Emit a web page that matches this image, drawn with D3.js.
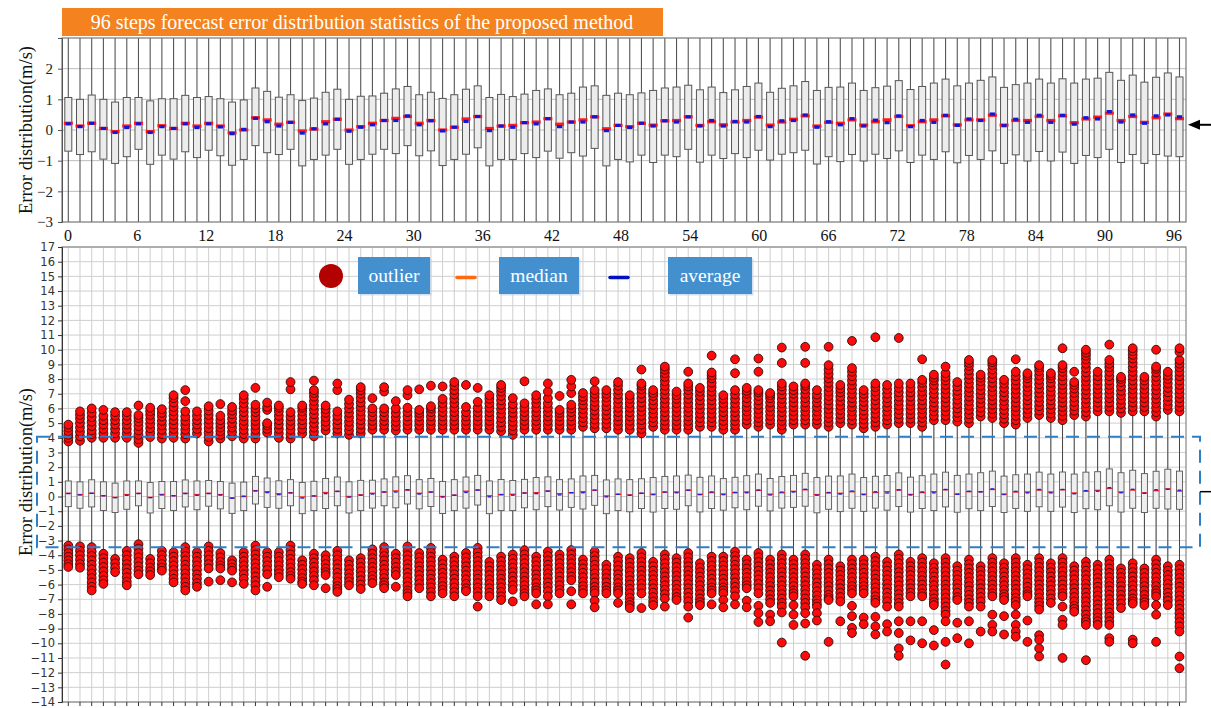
<!DOCTYPE html>
<html><head><meta charset="utf-8">
<script src="https://cdn.jsdelivr.net/npm/d3@7"></script>
<style>body{margin:0;background:#fff}svg{display:block}</style>
</head><body>
<svg id="c" width="1211" height="708"></svg>
<script>
// ---------------- DATA ----------------
const steps = d3.range(96);                 // box index 0..95
const xTickLabels = [0,6,12,18,24,30,36,42,48,54,60,66,72,78,84,90,96];
const topYTicks = [-3,-2,-1,0,1,2];
const bottomYTicks = d3.range(-14,18);
const zoomBand = [-3.45, 4.08];
const titleText = "96 steps forecast error distribution statistics of the proposed method";
const yTitle = "Error distribution(m/s)";
const legendItems = ["outlier","median","average"];

const q3 = [1.06,1.00,1.14,1.00,0.91,1.06,1.06,0.95,1.02,1.02,1.13,1.06,
 1.09,1.02,0.91,0.98,1.37,1.26,1.07,1.15,0.96,1.04,1.23,1.33,
 1.00,1.10,1.11,1.20,1.34,1.42,1.15,1.23,1.03,1.15,1.33,1.44,
 1.06,1.16,1.09,1.17,1.29,1.34,1.15,1.20,1.40,1.44,1.13,1.20,
 1.15,1.21,1.29,1.37,1.40,1.46,1.31,1.40,1.22,1.31,1.42,1.53,
 1.23,1.36,1.44,1.58,1.29,1.39,1.40,1.53,1.29,1.38,1.43,1.61,
 1.32,1.42,1.53,1.66,1.44,1.53,1.62,1.73,1.39,1.48,1.53,1.66,
 1.53,1.67,1.53,1.66,1.69,1.88,1.62,1.79,1.56,1.72,1.86,1.73];
const q1 = [-0.69,-0.80,-0.71,-0.95,-1.09,-0.87,-0.63,-1.12,-0.82,-0.95,-0.71,-0.90,
 -0.66,-0.84,-1.15,-0.96,-0.51,-0.74,-0.80,-0.63,-1.17,-0.96,-0.82,-0.63,
 -1.12,-0.96,-0.79,-0.63,-0.77,-0.51,-0.84,-0.68,-1.16,-0.96,-0.79,-0.58,
 -1.17,-0.96,-0.96,-0.77,-0.90,-0.69,-0.92,-0.74,-0.85,-0.60,-1.17,-0.96,
 -1.04,-0.82,-1.06,-0.82,-0.87,-0.63,-1.05,-0.82,-0.93,-0.77,-0.90,-0.66,
 -0.98,-0.79,-0.74,-0.66,-1.11,-0.87,-1.03,-0.80,-1.01,-0.79,-0.93,-0.68,
 -1.06,-0.82,-0.96,-0.71,-1.07,-0.83,-0.96,-0.68,-1.09,-0.81,-1.01,-0.70,
 -1.01,-0.72,-1.09,-0.83,-0.90,-0.63,-1.06,-0.80,-1.09,-0.80,-0.85,-0.87];
const median = [0.22,0.13,0.22,0.05,-0.05,0.13,0.22,-0.05,0.14,0.05,0.22,0.13,
 0.22,0.13,-0.09,0.00,0.40,0.33,0.19,0.25,-0.03,0.03,0.27,0.35,
 0.00,0.11,0.22,0.31,0.38,0.44,0.22,0.31,0.00,0.09,0.36,0.44,
 0.05,0.13,0.15,0.24,0.26,0.37,0.19,0.26,0.33,0.43,0.04,0.15,
 0.11,0.22,0.16,0.30,0.31,0.43,0.15,0.27,0.17,0.26,0.31,0.42,
 0.16,0.26,0.35,0.46,0.13,0.25,0.22,0.33,0.16,0.27,0.33,0.44,
 0.14,0.27,0.33,0.46,0.17,0.33,0.33,0.48,0.16,0.31,0.31,0.44,
 0.31,0.46,0.24,0.36,0.42,0.55,0.31,0.44,0.25,0.40,0.52,0.37];
const average = [0.20,0.11,0.22,0.05,-0.08,0.08,0.20,-0.08,0.11,0.05,0.20,0.08,
 0.20,0.10,-0.12,0.02,0.38,0.27,0.13,0.25,-0.10,0.04,0.20,0.35,
 -0.04,0.09,0.17,0.31,0.31,0.46,0.17,0.30,-0.03,0.09,0.28,0.44,
 -0.02,0.13,0.09,0.24,0.20,0.37,0.11,0.26,0.26,0.43,-0.02,0.15,
 0.08,0.22,0.13,0.30,0.26,0.43,0.13,0.31,0.13,0.28,0.26,0.44,
 0.11,0.30,0.31,0.49,0.09,0.27,0.17,0.37,0.13,0.32,0.24,0.46,
 0.11,0.31,0.25,0.48,0.15,0.36,0.31,0.52,0.14,0.35,0.25,0.48,
 0.25,0.48,0.19,0.40,0.36,0.60,0.26,0.49,0.22,0.46,0.49,0.43];
const whiskerHi = [3.6,3.65,3.85,3.85,3.85,3.85,3.5,3.9,3.8,3.85,3.8,4.15,
 3.6,3.8,3.95,3.8,3.8,4.2,3.85,3.8,4.15,3.95,4.35,4.15,
 4.05,4.15,4.4,4.4,4.35,4.4,4.4,4.4,4.4,4.4,4.4,4.4,
 4.4,4.3,4.05,4.4,4.4,4.4,4.4,4.4,4.6,4.5,4.5,4.4,
 4.4,4.15,4.6,4.4,4.4,4.4,4.6,4.6,4.4,4.4,4.75,4.6,
 4.75,4.4,4.75,4.75,4.75,4.6,4.85,4.75,4.5,4.6,4.75,4.85,
 4.85,4.6,5.05,5.05,4.95,4.85,5.3,5.2,4.85,4.75,5.2,5.4,
 5.2,5.05,5.4,5.3,5.65,5.65,5.55,5.65,5.65,5.3,5.75,5.65];
const whiskerLo = [-3.2,-3.25,-3.3,-3.75,-4.1,-3.55,-3.1,-4.1,-3.55,-3.65,-3.3,-3.65,
 -3.25,-3.7,-4.2,-3.65,-3.2,-3.65,-3.65,-3.2,-4.2,-3.75,-3.85,-3.55,
 -4.2,-4.05,-3.45,-3.3,-3.75,-3.25,-3.7,-3.35,-4.15,-3.95,-3.7,-3.35,
 -4.3,-3.95,-3.8,-3.5,-3.95,-3.6,-3.8,-3.5,-4.15,-3.6,-4.5,-3.95,
 -4.05,-3.7,-4.3,-3.8,-4.05,-3.7,-4.4,-3.95,-3.95,-3.6,-4.15,-3.7,
 -4.15,-3.8,-4.15,-3.8,-4.5,-4.15,-4.6,-4.15,-4.15,-3.95,-4.3,-3.8,
 -4.3,-4.05,-4.4,-4.05,-4.6,-4.15,-4.6,-4.05,-4.4,-4.05,-4.5,-4.05,
 -4.4,-4.05,-4.6,-4.3,-4.5,-4.15,-4.75,-4.4,-4.75,-4.15,-4.6,-4.5];

const upperOutliers = [
 [3.75,4.0,4.2,4.45,4.7,4.9],
 [3.8,4.1,4.4,4.7,5.0,5.3,5.55,5.8],
 [4.0,4.25,4.5,4.8,5.1,5.4,5.7,6.0],
 [4.0,4.3,4.6,4.9,5.2,5.5,5.9],
 [4.0,4.3,4.6,4.9,5.2,5.5,5.75],
 [4.0,4.3,4.6,4.9,5.2,5.5,5.75],
 [3.65,3.9,4.2,4.5,4.8,5.1,5.35,5.55,6.2],
 [4.05,4.35,4.65,4.95,5.25,5.55,5.8,6.05],
 [3.95,4.25,4.55,4.85,5.15,5.45,5.7,5.95],
 [4.0,4.3,4.6,4.9,5.2,5.5,5.8,6.1,6.4,6.7,6.9],
 [3.95,4.25,4.55,4.85,5.15,5.45,5.8,6.5,7.25],
 [4.3,4.6,4.9,5.2,5.5,5.8],
 [3.75,4.05,4.35,4.65,4.95,5.25,5.55,5.85,6.15],
 [3.95,4.2,4.45,4.7,4.95,5.2,5.5,6.3],
 [4.1,4.4,4.7,5.0,5.3,5.6,5.85,6.1],
 [3.95,4.25,4.55,4.85,5.15,5.45,5.75,6.05,6.35,6.65,6.9],
 [3.95,4.25,4.55,4.85,5.15,5.45,5.75,6.0,6.25,7.4],
 [4.35,4.6,4.85,5.0,5.9,6.1,6.4],
 [4.0,4.3,4.6,4.9,5.2,5.5,5.8,6.05,6.2],
 [3.95,4.25,4.55,4.85,5.15,5.45,5.75,7.3,7.8],
 [4.3,4.6,4.9,5.2,5.5,5.8,6.05,6.2],
 [4.1,4.4,4.7,5.0,5.3,5.6,5.9,6.2,6.5,6.8,7.05,7.25,7.9],
 [4.5,4.8,5.1,5.4,5.7,5.95,6.2],
 [4.3,4.6,4.9,5.2,5.5,5.8,7.25,7.7],
 [4.2,4.5,4.8,5.1,5.4,5.7,6.0,6.3,6.6],
 [4.3,4.6,4.9,5.2,5.5,5.8,6.1,6.4,6.7,7.0,7.25,7.45],
 [4.55,4.85,5.15,5.45,5.75,6.0,6.7],
 [4.55,4.85,5.15,5.45,5.75,6.0,7.15,7.45],
 [4.5,4.8,5.1,5.4,5.7,6.0,6.5],
 [4.55,4.85,5.15,5.45,5.75,6.05,6.9,7.25],
 [4.55,4.85,5.15,5.45,5.7,5.9,7.3],
 [4.55,4.85,5.15,5.45,5.75,6.0,6.15,7.55],
 [4.55,4.85,5.15,5.45,5.75,6.05,6.35,6.65,7.5],
 [4.55,4.85,5.15,5.45,5.75,6.05,6.35,6.65,6.95,7.25,7.55,7.8],
 [4.55,4.85,5.15,5.45,5.75,6.1,7.6],
 [4.55,4.85,5.15,5.45,5.75,6.05,6.45,7.4],
 [4.55,4.85,5.15,5.45,5.75,6.05,6.35,6.65,6.9],
 [4.45,4.75,5.05,5.35,5.65,5.95,6.25,6.55,6.85,7.15,7.4,7.6],
 [4.2,4.5,4.8,5.1,5.4,5.7,6.0,6.3,6.7],
 [4.55,4.85,5.15,5.45,5.75,6.05,6.35,7.85],
 [4.55,4.85,5.15,5.45,5.75,6.05,6.35,6.65,6.9],
 [4.55,4.85,5.15,5.45,5.75,6.05,6.35,6.7,7.15,7.7],
 [4.55,4.85,5.15,5.45,5.7,5.9,6.85],
 [4.55,4.85,5.15,5.45,5.75,6.0,6.25,7.05,7.5,7.95],
 [4.75,5.05,5.35,5.65,5.95,6.25,6.55,6.8,7.05],
 [4.65,4.95,5.25,5.55,5.85,6.15,6.45,6.75,7.0,7.25,7.85],
 [4.65,4.95,5.25,5.55,5.85,6.15,6.45,6.75,7.0,7.25],
 [4.55,4.85,5.15,5.45,5.75,6.05,6.35,6.65,6.95,7.25,7.55,7.8],
 [4.55,4.85,5.15,5.45,5.75,6.05,6.35,6.65,6.9],
 [4.3,4.6,4.9,5.2,5.5,5.8,6.1,6.4,6.7,7.0,7.3,7.55,7.7,8.65],
 [4.75,5.05,5.35,5.65,5.95,6.25,6.55,6.85,7.05,7.25],
 [4.55,4.85,5.15,5.45,5.75,6.05,6.35,6.65,6.95,7.25,7.55,7.85,8.15,8.4,8.65,8.85],
 [4.55,4.85,5.15,5.45,5.75,6.05,6.35,6.65,6.9,7.15],
 [4.55,4.85,5.15,5.45,5.75,6.05,6.35,6.65,6.95,7.25,7.5,7.7,8.5],
 [4.75,5.05,5.35,5.65,5.95,6.25,6.55,6.85,7.15,7.4],
 [4.75,5.05,5.35,5.65,5.95,6.25,6.55,6.85,7.15,7.45,7.75,8.05,8.25,8.45,9.6],
 [4.55,4.85,5.15,5.45,5.75,6.05,6.35,6.65,6.9],
 [4.55,4.85,5.15,5.45,5.75,6.05,6.35,6.65,6.95,7.25,8.4,9.35],
 [4.9,5.2,5.5,5.8,6.1,6.4,6.7,7.0,7.2,7.4],
 [4.75,5.05,5.35,5.65,5.95,6.25,6.55,6.85,7.1,7.25,8.5,9.4],
 [4.9,5.2,5.5,5.8,6.1,6.4,6.7,6.9,7.05],
 [4.55,4.85,5.15,5.45,5.75,6.05,6.35,6.65,6.95,7.25,7.5,7.7,9.1,10.15],
 [4.9,5.2,5.5,5.8,6.1,6.4,6.7,7.0,7.25,7.5],
 [4.9,5.2,5.5,5.8,6.1,6.4,6.7,7.0,7.3,7.55,7.7,9.1,10.2],
 [4.9,5.2,5.5,5.8,6.1,6.4,6.7,6.95,7.25],
 [4.75,5.05,5.35,5.65,5.95,6.25,6.55,6.85,7.15,7.45,7.75,8.05,8.35,8.65,8.95,10.2],
 [5.0,5.3,5.6,5.9,6.2,6.5,6.8,7.1,7.35,7.6],
 [4.9,5.2,5.5,5.8,6.1,6.4,6.7,7.0,7.3,7.6,7.9,8.2,8.5,8.75,10.6],
 [4.65,4.95,5.25,5.55,5.85,6.15,6.45,6.75,7.0,7.25],
 [4.75,5.05,5.35,5.65,5.95,6.25,6.55,6.85,7.15,7.45,7.7,10.85],
 [4.9,5.2,5.5,5.8,6.1,6.4,6.7,7.0,7.3,7.6],
 [5.0,5.3,5.6,5.9,6.2,6.5,6.8,7.1,7.4,7.7,10.8],
 [5.0,5.3,5.6,5.9,6.2,6.5,6.8,7.1,7.4,7.7],
 [4.75,5.05,5.35,5.65,5.95,6.25,6.55,6.85,7.15,7.45,7.75,7.95,9.35],
 [5.2,5.5,5.8,6.1,6.4,6.7,7.0,7.3,7.6,7.9,8.1,8.3],
 [5.2,5.5,5.8,6.1,6.4,6.7,7.0,7.3,7.6,7.9,8.15,8.4,8.85],
 [5.1,5.4,5.7,6.0,6.3,6.6,6.9,7.2,7.5,7.8],
 [5.0,5.3,5.6,5.9,6.2,6.5,6.8,7.1,7.4,7.7,8.0,8.3,8.6,8.9,9.1,9.3],
 [5.45,5.75,6.05,6.35,6.65,6.95,7.25,7.55,7.85,8.1,8.3],
 [5.35,5.65,5.95,6.25,6.55,6.85,7.15,7.45,7.75,8.05,8.35,8.65,8.95,9.15,9.3],
 [5.0,5.3,5.6,5.9,6.2,6.5,6.8,7.1,7.4,7.7,7.95],
 [4.9,5.2,5.5,5.8,6.1,6.4,6.7,7.0,7.3,7.6,7.9,8.2,8.5,9.35],
 [5.35,5.65,5.95,6.25,6.55,6.85,7.15,7.45,7.75,8.05,8.25,8.4],
 [5.55,5.85,6.15,6.45,6.75,7.05,7.35,7.65,7.95,8.25,8.55,8.8,8.95],
 [5.35,5.65,5.95,6.25,6.55,6.85,7.15,7.45,7.75,8.05,8.25,8.4],
 [5.2,5.5,5.8,6.1,6.4,6.7,7.0,7.3,7.6,7.9,8.2,8.5,8.75,8.95,10.1],
 [5.55,5.85,6.15,6.45,6.75,7.05,7.35,7.6,7.8,8.5],
 [5.45,5.75,6.05,6.35,6.65,6.95,7.25,7.55,7.85,8.15,8.45,8.75,9.05,9.35,9.6,9.8,10.0],
 [5.8,6.1,6.4,6.7,7.0,7.3,7.6,7.9,8.2,8.5],
 [5.8,6.1,6.4,6.7,7.0,7.3,7.6,7.9,8.2,8.5,8.8,9.05,9.3,10.35],
 [5.7,6.0,6.3,6.6,6.9,7.2,7.5,7.8,8.0,8.15],
 [5.8,6.1,6.4,6.7,7.0,7.3,7.6,7.9,8.2,8.5,8.8,9.1,9.4,9.65,9.9,10.1],
 [5.8,6.1,6.4,6.7,7.0,7.3,7.6,7.9,8.15],
 [5.45,5.75,6.05,6.35,6.65,6.95,7.25,7.55,7.85,8.15,8.45,8.7,8.85,10.0],
 [5.9,6.2,6.5,6.8,7.1,7.4,7.7,8.0,8.25,8.5],
 [5.8,6.1,6.4,6.7,7.0,7.3,7.6,7.9,8.2,8.5,8.8,9.05,9.3,9.85,10.1]
];
const lowerOutliers = [
 [-3.35,-3.6,-3.85,-4.1,-4.35,-4.6,-4.8],
 [-3.4,-3.7,-4.0,-4.3,-4.6,-4.85],
 [-3.45,-3.75,-4.05,-4.35,-4.65,-4.95,-5.25,-5.55,-5.85,-6.15,-6.4],
 [-3.9,-4.2,-4.5,-4.8,-5.1,-5.4,-5.7,-5.95],
 [-4.25,-4.55,-4.85,-5.15],
 [-3.7,-4.0,-4.3,-4.6,-4.9,-5.2,-5.5,-5.8,-6.05],
 [-3.25,-3.55,-3.85,-4.15,-4.45,-4.75,-5.05,-5.3],
 [-4.25,-4.55,-4.85,-5.1,-5.35],
 [-3.7,-4.0,-4.3,-4.6,-4.85,-5.05],
 [-3.8,-4.1,-4.4,-4.7,-5.0,-5.3,-5.6,-5.85],
 [-3.45,-3.75,-4.05,-4.35,-4.65,-4.95,-5.25,-5.55,-5.85,-6.15,-6.4],
 [-3.8,-4.1,-4.4,-4.7,-5.0,-5.3,-5.6,-5.9,-6.15],
 [-3.4,-3.7,-4.0,-4.3,-4.6,-4.9,-5.8],
 [-3.85,-4.15,-4.45,-4.7,-4.9,-5.7],
 [-4.35,-4.6,-4.85,-5.05,-5.85],
 [-3.8,-4.1,-4.4,-4.7,-5.0,-5.3,-5.6,-5.95],
 [-3.35,-3.65,-3.95,-4.25,-4.55,-4.85,-5.15,-5.45,-5.75,-6.05,-6.4],
 [-3.8,-4.1,-4.4,-4.7,-5.0,-5.3,-6.15],
 [-3.8,-4.1,-4.4,-4.7,-5.0,-5.25,-5.5],
 [-3.35,-3.65,-3.95,-4.25,-4.55,-4.85,-5.15,-5.4,-5.6],
 [-4.35,-4.65,-4.95,-5.25,-5.55,-5.8,-5.95],
 [-3.9,-4.2,-4.5,-4.8,-5.1,-5.4,-5.7,-6.05],
 [-4.0,-4.3,-4.6,-4.9,-5.15,-5.35,-6.25],
 [-3.7,-4.0,-4.3,-4.6,-4.9,-5.2,-5.5,-5.8,-6.1,-6.3,-6.5],
 [-4.35,-4.65,-4.95,-5.25,-5.55,-5.8,-6.05],
 [-4.2,-4.5,-4.8,-5.1,-5.4,-5.7,-6.0,-6.3],
 [-3.6,-3.9,-4.2,-4.5,-4.8,-5.1,-5.4,-5.65,-5.9],
 [-3.45,-3.75,-4.05,-4.35,-4.65,-4.95,-5.25,-5.55,-5.85,-6.05,-6.25],
 [-3.9,-4.2,-4.5,-4.8,-5.1,-5.35,-6.15],
 [-3.4,-3.7,-4.0,-4.3,-4.6,-4.9,-5.2,-5.5,-5.8,-6.1,-6.4,-6.6,-6.8],
 [-3.85,-4.15,-4.45,-4.75,-5.05,-5.35,-5.65,-5.95,-6.25],
 [-3.5,-3.8,-4.1,-4.4,-4.7,-5.0,-5.3,-5.6,-5.9,-6.2,-6.5,-6.8],
 [-4.3,-4.6,-4.9,-5.2,-5.5,-5.8,-6.1,-6.35,-6.6],
 [-4.1,-4.4,-4.7,-5.0,-5.3,-5.6,-5.9,-6.2,-6.5,-6.8],
 [-3.85,-4.15,-4.45,-4.75,-5.05,-5.35,-5.65,-5.95,-6.25,-6.45],
 [-3.5,-3.8,-4.1,-4.4,-4.7,-5.0,-5.3,-5.6,-5.9,-6.2,-6.5,-6.8,-7.5],
 [-4.45,-4.75,-5.05,-5.35,-5.65,-5.95,-6.25,-6.55,-6.8],
 [-4.1,-4.4,-4.7,-5.0,-5.3,-5.6,-5.9,-6.2,-6.5,-6.8,-7.05],
 [-3.95,-4.25,-4.55,-4.85,-5.15,-5.45,-5.75,-6.05,-6.35,-7.15],
 [-3.65,-3.95,-4.25,-4.55,-4.85,-5.15,-5.45,-5.75,-6.05,-6.35,-6.6,-6.8],
 [-4.1,-4.4,-4.7,-5.0,-5.3,-5.6,-5.9,-6.2,-6.4,-6.6,-7.35],
 [-3.75,-4.05,-4.35,-4.65,-4.95,-5.25,-5.55,-5.85,-6.15,-6.45,-6.8,-7.35],
 [-3.95,-4.25,-4.55,-4.85,-5.15,-5.45,-5.75,-6.05,-6.35,-6.6],
 [-3.65,-3.95,-4.25,-4.55,-4.85,-5.15,-5.45,-5.7,-6.45,-7.35],
 [-4.3,-4.6,-4.9,-5.2,-5.5,-5.8,-6.1,-6.35,-6.6],
 [-3.75,-4.05,-4.35,-4.65,-4.95,-5.25,-5.55,-5.85,-6.15,-6.4,-6.6,-7.1,-7.55],
 [-4.65,-4.95,-5.25,-5.55,-5.85,-6.15,-6.4,-6.6],
 [-4.1,-4.4,-4.7,-5.0,-5.3,-5.6,-5.9,-6.2,-6.4,-6.6,-7.25],
 [-4.2,-4.5,-4.8,-5.1,-5.4,-5.7,-6.0,-6.3,-6.6,-6.9,-7.2,-7.4,-7.6],
 [-3.85,-4.15,-4.45,-4.75,-5.05,-5.35,-5.65,-5.95,-6.25,-6.6,-7.6],
 [-4.45,-4.75,-5.05,-5.35,-5.65,-5.95,-6.25,-6.55,-6.85,-7.15,-7.4],
 [-3.95,-4.25,-4.55,-4.85,-5.15,-5.45,-5.75,-6.05,-6.35,-6.65,-6.95,-7.5],
 [-4.2,-4.5,-4.8,-5.1,-5.4,-5.7,-6.0,-6.3,-6.6,-6.85,-7.05],
 [-3.85,-4.15,-4.45,-4.75,-5.05,-5.35,-5.65,-5.95,-6.25,-6.55,-6.85,-7.15,-7.5,-8.25],
 [-4.55,-4.85,-5.15,-5.45,-5.75,-6.05,-6.35,-6.65,-6.95,-7.2,-7.4],
 [-4.1,-4.4,-4.7,-5.0,-5.3,-5.6,-5.9,-6.2,-6.4,-6.6,-7.35],
 [-4.1,-4.4,-4.7,-5.0,-5.3,-5.6,-5.9,-6.2,-6.4,-6.6,-7.05,-7.55],
 [-3.75,-4.05,-4.35,-4.65,-4.95,-5.25,-5.55,-5.85,-6.15,-6.45,-6.8,-7.35],
 [-4.3,-4.6,-4.9,-5.2,-5.5,-5.8,-6.05,-6.25,-7.1,-7.55],
 [-3.85,-4.15,-4.45,-4.75,-5.05,-5.35,-5.65,-5.95,-6.25,-6.6,-7.45,-7.95,-8.55],
 [-4.3,-4.6,-4.9,-5.2,-5.5,-5.8,-6.1,-6.4,-6.7,-7.0,-7.25,-8.05,-8.5],
 [-3.95,-4.25,-4.55,-4.85,-5.15,-5.45,-5.75,-6.05,-6.35,-6.65,-6.95,-7.25,-7.5,-7.9,-9.95],
 [-4.3,-4.6,-4.9,-5.2,-5.5,-5.8,-6.1,-6.4,-6.6,-6.8,-7.4,-8.05,-8.75],
 [-3.95,-4.25,-4.55,-4.85,-5.15,-5.45,-5.75,-6.05,-6.35,-6.65,-6.95,-7.25,-7.55,-7.95,-8.65,-10.85],
 [-4.65,-4.95,-5.25,-5.55,-5.85,-6.15,-6.45,-6.75,-7.05,-7.3,-7.5,-7.95,-8.45],
 [-4.3,-4.6,-4.9,-5.2,-5.5,-5.8,-6.1,-6.4,-6.7,-6.9,-7.05,-9.9],
 [-4.75,-5.05,-5.35,-5.65,-5.95,-6.25,-6.55,-6.85,-7.15,-8.5],
 [-4.3,-4.6,-4.9,-5.2,-5.5,-5.8,-6.1,-6.35,-6.6,-7.45,-8.15,-8.95,-9.3],
 [-4.3,-4.6,-4.9,-5.2,-5.5,-5.8,-6.1,-6.35,-6.6,-8.25,-8.7],
 [-4.1,-4.4,-4.7,-5.0,-5.3,-5.6,-5.9,-6.2,-6.5,-6.8,-7.05,-7.25,-8.2,-8.85,-9.4],
 [-4.45,-4.75,-5.05,-5.35,-5.65,-5.95,-6.25,-6.55,-6.85,-7.15,-7.5,-8.7,-9.2],
 [-3.95,-4.25,-4.55,-4.85,-5.15,-5.45,-5.75,-6.05,-6.35,-6.65,-6.95,-7.25,-7.5,-8.5,-9.3,-10.35,-10.85],
 [-4.45,-4.75,-5.05,-5.35,-5.65,-5.95,-6.25,-6.55,-6.8,-8.5,-9.8],
 [-4.2,-4.5,-4.8,-5.1,-5.4,-5.7,-6.0,-6.3,-6.6,-6.8,-8.5,-10.0],
 [-4.55,-4.85,-5.15,-5.45,-5.75,-6.05,-6.35,-6.65,-6.95,-7.2,-7.4,-9.1,-10.15],
 [-4.2,-4.5,-4.8,-5.1,-5.4,-5.7,-6.0,-6.3,-6.6,-6.9,-7.2,-7.5,-7.8,-8.05,-8.5,-9.9,-11.45],
 [-4.75,-5.05,-5.35,-5.65,-5.95,-6.25,-6.55,-6.85,-7.05,-8.6,-9.65],
 [-4.3,-4.6,-4.9,-5.2,-5.5,-5.8,-6.1,-6.4,-6.7,-7.0,-7.25,-7.5,-8.5,-10.0],
 [-4.75,-5.05,-5.35,-5.65,-5.95,-6.25,-6.55,-6.85,-7.15,-7.5,-9.2],
 [-4.2,-4.5,-4.8,-5.1,-5.4,-5.7,-6.0,-6.3,-6.6,-6.8,-8.05,-8.75,-9.2],
 [-4.55,-4.85,-5.15,-5.45,-5.75,-6.05,-6.35,-6.65,-6.85,-7.05,-8.15,-9.4],
 [-4.2,-4.5,-4.8,-5.1,-5.4,-5.7,-6.0,-6.3,-6.6,-6.9,-7.15,-7.4,-8.05,-8.75,-9.2,-9.55],
 [-4.65,-4.95,-5.25,-5.55,-5.85,-6.15,-6.45,-6.65,-6.8,-8.45,-9.9],
 [-4.2,-4.5,-4.8,-5.1,-5.4,-5.7,-6.0,-6.3,-6.6,-6.9,-7.2,-7.45,-7.7,-9.45,-9.75,-10.35,-10.9],
 [-4.55,-4.85,-5.15,-5.45,-5.75,-6.05,-6.35,-6.65,-6.95,-7.25],
 [-4.2,-4.5,-4.8,-5.1,-5.4,-5.7,-6.0,-6.3,-6.6,-6.8,-7.5,-8.4,-8.75,-11.0],
 [-4.75,-5.05,-5.35,-5.65,-5.95,-6.25,-6.55,-6.85,-7.15,-7.45,-7.65,-7.85],
 [-4.45,-4.75,-5.05,-5.35,-5.65,-5.95,-6.25,-6.55,-6.85,-7.15,-7.45,-7.75,-8.05,-8.35,-8.55,-8.75,-11.15],
 [-4.65,-4.95,-5.25,-5.55,-5.85,-6.15,-6.45,-6.75,-7.05,-7.35,-7.65,-7.95,-8.25,-8.5,-8.75],
 [-4.3,-4.6,-4.9,-5.2,-5.5,-5.8,-6.1,-6.4,-6.7,-7.0,-7.3,-7.6,-7.9,-8.2,-8.5,-8.75,-9.65,-9.9],
 [-4.9,-5.2,-5.5,-5.8,-6.1,-6.4,-6.7,-7.0,-7.3,-7.6],
 [-4.55,-4.85,-5.15,-5.45,-5.75,-6.05,-6.35,-6.65,-6.95,-7.15,-7.3,-9.75,-10.0],
 [-4.9,-5.2,-5.5,-5.8,-6.1,-6.4,-6.7,-7.0,-7.2,-7.4],
 [-4.3,-4.6,-4.9,-5.2,-5.5,-5.8,-6.1,-6.4,-6.6,-6.8,-7.4,-8.05,-9.9],
 [-4.75,-5.05,-5.35,-5.65,-5.95,-6.25,-6.55,-6.85,-7.1,-7.4],
 [-4.65,-4.95,-5.25,-5.55,-5.85,-6.15,-6.45,-6.75,-7.05,-7.35,-7.65,-7.95,-8.25,-8.55,-8.85,-9.2,-10.9,-11.7]
];

// ---------------- DRAW ----------------
const svg = d3.select('#c');
const SERIF = "'Liberation Serif','Times New Roman',serif";
const SANS = "'DejaVu Sans',sans-serif";
const L = 62, R = 1186;
const x = d3.scaleLinear().domain([0,95]).range([68.3,1179.5]);
const xLab = d3.scaleLinear().domain([0,96]).range([68,1174]);
const yT = d3.scaleLinear().domain([-3,3]).range([222,38]);
const yB = d3.scaleLinear().domain([-14,17]).range([702,247]);
const fmt = d3.format('d');

svg.append('rect').attr('width',1211).attr('height',708).attr('fill','#fff');
const defs = svg.append('defs');
defs.append('clipPath').attr('id','clipT').append('rect')
  .attr('x',L).attr('y',yT(3)).attr('width',R-L).attr('height',yT(-3)-yT(3));
defs.append('clipPath').attr('id','clipB').append('rect')
  .attr('x',L).attr('y',yB(17)).attr('width',R-L).attr('height',yB(-14)-yB(17));

const data = steps.map(i => ({i, q1:q1[i], q3:q3[i], med:median[i], avg:average[i],
  wh:whiskerHi[i], wl:whiskerLo[i], up:upperOutliers[i]||[], lo:lowerOutliers[i]||[]}));

// Title
svg.append('rect').attr('x',L).attr('y',8).attr('width',601).attr('height',28).attr('fill','#f3821f');
svg.append('text').attr('x',362).attr('y',29).attr('text-anchor','middle')
  .attr('font-family',SERIF).attr('font-size',20).attr('fill','#fff').text(titleText);

// ===== TOP PANEL =====
const gT = svg.append('g');
gT.append('g').selectAll('line').data(topYTicks.filter(d=>d>-3)).join('line')
  .attr('x1',L).attr('x2',R).attr('y1',d=>yT(d)).attr('y2',d=>yT(d))
  .attr('stroke','#bdbdbd').attr('stroke-width',1);
const pT = gT.append('g').attr('clip-path','url(#clipT)');
pT.selectAll('line.wu').data(data).join('line').attr('class','wu')
  .attr('x1',d=>x(d.i)).attr('x2',d=>x(d.i)).attr('y1',d=>yT(d.q3)).attr('y2',d=>yT(d.wh))
  .attr('stroke','#555').attr('stroke-width',1.1);
pT.selectAll('line.wl').data(data).join('line').attr('class','wl')
  .attr('x1',d=>x(d.i)).attr('x2',d=>x(d.i)).attr('y1',d=>yT(d.q1)).attr('y2',d=>yT(d.wl))
  .attr('stroke','#555').attr('stroke-width',1.1);
pT.selectAll('rect.box').data(data).join('rect').attr('class','box')
  .attr('x',d=>x(d.i)-3.5).attr('width',7).attr('y',d=>yT(d.q3)).attr('height',d=>yT(d.q1)-yT(d.q3))
  .attr('fill','#ececec').attr('stroke','#555').attr('stroke-width',1);
pT.selectAll('rect.med').data(data).join('rect').attr('class','med')
  .attr('x',d=>x(d.i)-4.5).attr('width',9).attr('y',d=>yT(d.med)-1.6).attr('height',3.2).attr('fill','#ff1a1a');
pT.selectAll('rect.avg').data(data).join('rect').attr('class','avg')
  .attr('x',d=>x(d.i)-2.6).attr('width',5.2).attr('y',d=>yT(d.avg)-1.6).attr('height',3.2).attr('fill','#1515d8');
gT.append('rect').attr('x',L).attr('y',yT(3)).attr('width',R-L).attr('height',yT(-3)-yT(3))
  .attr('fill','none').attr('stroke','#777').attr('stroke-width',1.2);
const axT = gT.append('g').attr('transform',`translate(${L},0)`)
  .call(d3.axisLeft(yT).tickValues(topYTicks).tickSize(4).tickPadding(5).tickFormat(fmt));
axT.select('.domain').attr('stroke','#555');
axT.selectAll('line').attr('stroke','#555');
axT.selectAll('text').attr('font-family',SERIF).attr('font-size',15).attr('fill','#222');

// X tick labels (shared)
svg.append('g').selectAll('text').data(xTickLabels).join('text')
  .attr('x',d=>xLab(d)).attr('y',241).attr('text-anchor','middle')
  .attr('font-family',SERIF).attr('font-size',16).attr('fill','#111').text(d=>d);

// Y titles
[130,472].forEach(cy=>{
  svg.append('text').attr('transform',`translate(32,${cy}) rotate(-90)`).attr('text-anchor','middle')
    .attr('font-family',SERIF).attr('font-size',18.5).attr('fill','#111').text(yTitle);
});

// ===== BOTTOM PANEL =====
const gB = svg.append('g');
gB.append('g').selectAll('line').data(bottomYTicks).join('line')
  .attr('x1',L).attr('x2',R).attr('y1',d=>yB(d)).attr('y2',d=>yB(d))
  .attr('stroke','#cfcfcf').attr('stroke-width',1);
gB.append('g').selectAll('line').data(steps).join('line')
  .attr('x1',d=>x(d)).attr('x2',d=>x(d)).attr('y1',yB(17)).attr('y2',yB(-14))
  .attr('stroke','#cfcfcf').attr('stroke-width',1);
const pB = gB.append('g').attr('clip-path','url(#clipB)');
pB.selectAll('line.wu').data(data).join('line').attr('class','wu')
  .attr('x1',d=>x(d.i)).attr('x2',d=>x(d.i)).attr('y1',d=>yB(d.q3)).attr('y2',d=>yB(d.wh))
  .attr('stroke','#444').attr('stroke-width',1);
pB.selectAll('line.wl').data(data).join('line').attr('class','wl')
  .attr('x1',d=>x(d.i)).attr('x2',d=>x(d.i)).attr('y1',d=>yB(d.q1)).attr('y2',d=>yB(d.wl))
  .attr('stroke','#444').attr('stroke-width',1);
pB.selectAll('rect.box').data(data).join('rect').attr('class','box')
  .attr('x',d=>x(d.i)-3).attr('width',6).attr('y',d=>yB(d.q3)).attr('height',d=>yB(d.q1)-yB(d.q3))
  .attr('fill','#eeeeee').attr('stroke','#555').attr('stroke-width',0.9);
pB.selectAll('line.med').data(data).join('line').attr('class','med')
  .attr('x1',d=>x(d.i)-3).attr('x2',d=>x(d.i)+3).attr('y1',d=>yB(d.med)).attr('y2',d=>yB(d.med))
  .attr('stroke','#ff2020').attr('stroke-width',1.4);
pB.selectAll('line.avg').data(data).join('line').attr('class','avg')
  .attr('x1',d=>x(d.i)-1.8).attr('x2',d=>x(d.i)+1.8).attr('y1',d=>yB(d.avg)).attr('y2',d=>yB(d.avg))
  .attr('stroke','#2020e0').attr('stroke-width',1.4);
const pts = data.flatMap(d => d.up.concat(d.lo).map(v => ({i:d.i, v})));
pB.selectAll('circle.o').data(pts).join('circle').attr('class','o')
  .attr('cx',d=>x(d.i)).attr('cy',d=>yB(d.v)).attr('r',4.4)
  .attr('fill','#ff0a0a').attr('stroke','#2b0b0b').attr('stroke-width',0.9);
gB.append('rect').attr('x',L).attr('y',yB(17)).attr('width',R-L).attr('height',yB(-14)-yB(17))
  .attr('fill','none').attr('stroke','#888').attr('stroke-width',1.2);
const axB = gB.append('g').attr('transform',`translate(${L},0)`)
  .call(d3.axisLeft(yB).tickValues(bottomYTicks).tickSize(4).tickPadding(3).tickFormat(fmt));
axB.select('.domain').attr('stroke','#333');
axB.selectAll('line').attr('stroke','#333');
axB.selectAll('text').attr('font-family',SANS).attr('font-size',11.5).attr('fill','#333');
gB.append('g').selectAll('line').data(steps).join('line')
  .attr('x1',d=>x(d)).attr('x2',d=>x(d)).attr('y1',yB(-14)).attr('y2',yB(-14)+4)
  .attr('stroke','#333').attr('stroke-width',1);

// Dashed zoom-band rectangle
svg.append('rect').attr('x',37).attr('y',yB(zoomBand[1])).attr('width',1200-37)
  .attr('height',yB(zoomBand[0])-yB(zoomBand[1]))
  .attr('fill','none').attr('stroke','#2f7fc8').attr('stroke-width',2).attr('stroke-dasharray','13,8');

// Right-side arrow markers
svg.append('path').attr('d',`M${R+2},${yT(0.17)} L${R+14},${yT(0.17)-5} L${R+14},${yT(0.17)+5} Z`).attr('fill','#000');
svg.append('line').attr('x1',R+12).attr('x2',1211).attr('y1',yT(0.17)).attr('y2',yT(0.17)).attr('stroke','#000').attr('stroke-width',2);
svg.append('line').attr('x1',1200).attr('x2',1211).attr('y1',yB(0.33)).attr('y2',yB(0.33)).attr('stroke','#000').attr('stroke-width',1.5);

// Legend
const lg = svg.append('g');
lg.append('circle').attr('cx',331).attr('cy',276).attr('r',12).attr('fill','#b30000');
const boxes = [[358,72],[499,80],[668,84]];
legendItems.forEach((t,k)=>{
  lg.append('rect').attr('x',boxes[k][0]+1.5).attr('y',258.5).attr('width',boxes[k][1]).attr('height',37).attr('fill','#b9cde3').attr('opacity',0.6);
  lg.append('rect').attr('x',boxes[k][0]).attr('y',257).attr('width',boxes[k][1]).attr('height',37).attr('fill','#4490cf');
  lg.append('text').attr('x',boxes[k][0]+boxes[k][1]/2).attr('y',282).attr('text-anchor','middle')
    .attr('font-family',SERIF).attr('font-size',19.5).attr('fill','#fff').text(t);
});
lg.append('line').attr('x1',457).attr('x2',475).attr('y1',277.5).attr('y2',277.5).attr('stroke','#ff6a10').attr('stroke-width',3.5).attr('stroke-linecap','round');
lg.append('line').attr('x1',610).attr('x2',628).attr('y1',277.5).attr('y2',277.5).attr('stroke','#0010c0').attr('stroke-width',3.5).attr('stroke-linecap','round');
</script>
</body></html>
